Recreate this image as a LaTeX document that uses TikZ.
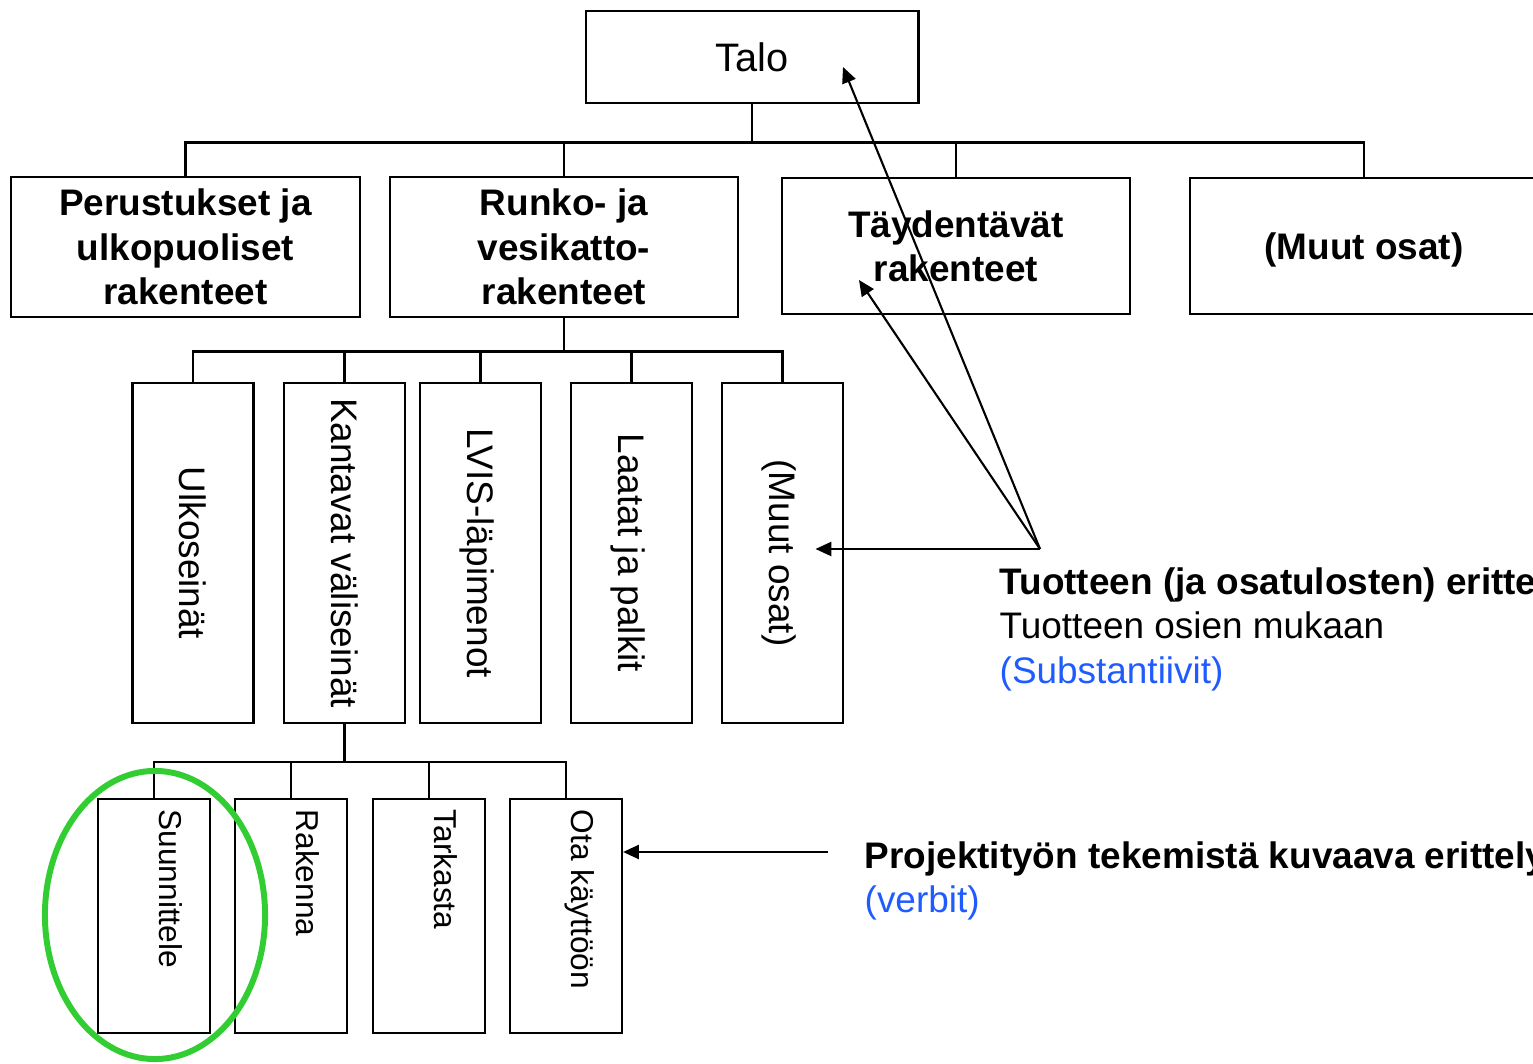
\documentclass[tikz,border=0pt]{standalone}
\usepackage{fontspec}
\setmainfont{Liberation Sans}
\usepackage{graphicx}
\usetikzlibrary{arrows.meta,calc}

\definecolor{nounblue}{RGB}{31,91,255}
\definecolor{ringgreen}{RGB}{50,205,50}
\newcommand{\vtext}[1]{\rotatebox{-90}{\raisebox{0pt}[\height][0pt]{#1}}}

\begin{document}
\begin{tikzpicture}[
    x=0.01cm, y=-0.01cm,
    top/.style={rectangle, draw, line width=0.8pt, minimum width=3.32cm, minimum height=0.92cm, font=\fontsize{11.3}{13.5}\selectfont},
    part/.style={rectangle, draw, line width=0.55pt, minimum width=3.48cm, minimum height=1.36cm, align=center, font=\fontsize{10.5}{12.6}\selectfont\bfseries},
    sub/.style={rectangle, draw, line width=0.6pt, minimum width=1.21cm, minimum height=3.40cm, inner sep=0pt, font=\fontsize{10.5}{12.6}\selectfont},
    task/.style={rectangle, draw, line width=0.6pt, minimum width=1.12cm, minimum height=2.34cm},
    tasktext/.style={inner sep=0pt, anchor=north, font=\fontsize{9}{10.8}\selectfont},
    note/.style={inner sep=0pt, anchor=north west, align=left, font=\fontsize{10.5}{12.6}\selectfont},
    arr/.style={-{Triangle[length=4.5pt,width=4pt]}, line width=0.6pt},
    link/.style={line width=0.6pt}
]
\useasboundingbox (0,0) rectangle (1533,1064);
\clip (0,0) rectangle (1533,1064);

% Ylin taso
\node[top] (talo) at (752,57) {Talo};

% Osat
\node[part] (perus) at (185.5,247) {Perustukset ja\\ulkopuoliset\\rakenteet};
\node[part] (runko) at (564,247) {Runko- ja\\vesikatto-\\rakenteet};
\node[part] (tayd) at (956,246) {Täydentävät\\rakenteet};
\node[part, text depth=0pt] (muut) at (1364,246) {(Muut osat)};

% Runko- ja vesikattorakenteiden osat
\node[sub] (ulko) at (193,553) {\vtext{Ulkoseinät}};
\node[sub] (kant) at (344.5,553) {\vtext{Kantavat väliseinät}};
\node[sub] (lvis) at (480.5,553) {\vtext{LVIS-läpimenot}};
\node[sub] (laat) at (631.5,553) {\vtext{Laatat ja palkit}};
\node[sub] (muut2) at (782.5,553) {\vtext{(Muut osat)}};

% Tehtävät
\node[task] (suun) at (154,916) {};
\node[task] (rake) at (291,916) {};
\node[task] (tark) at (429,916) {};
\node[task] (ota) at (566,916) {};
\node[tasktext] (suunT) at ($(suun.north)+(17,11)$) {\vtext{Suunnittele}};
\node[tasktext] (rakeT) at ($(rake.north)+(17,11)$) {\vtext{Rakenna}};
\node[tasktext] (tarkT) at ($(tark.north)+(17,11)$) {\vtext{Tarkasta}};
\node[tasktext] (otaT) at ($(ota.north)+(17,11)$) {\vtext{Ota käyttöön}};

% Puun viivat
\foreach \n in {perus, runko, tayd, muut}
    \draw[line width=0.8pt] (talo.south) -- ++(0,38) -| (\n.north);
\foreach \n in {ulko, kant, lvis, laat, muut2}
    \draw[link] (runko.south) -- ++(0,34) -| (\n.north);
\foreach \n in {suun, rake, tark, ota}
    \draw[link] (kant.south) -- ++(0,38) -| (\n.north);

% Selitteet
\node[note] (tuote) at (999,567) {\textbf{Tuotteen (ja osatulosten) erittely}\\Tuotteen osien mukaan\\\textcolor{nounblue}{(Substantiivit)}};
\node[note] (proj) at (864,841) {\textbf{Projektityön tekemistä kuvaava erittely}\\\textcolor{nounblue}{(verbit)}};

% Nuolet
\coordinate (src) at ($(tuote.north west)+(41,-18)$);
\draw[arr] (src) -- ($(talo.center)+(91,10)$);
\draw[arr] (src) -- ($(tayd.center)+(-97,34)$);
\draw[arr] (src) -- ($(src -| muut2.center)+(33,0)$);
\coordinate (vsrc) at ($(proj.north west)+(-36,11)$);
\draw[arr] (vsrc) -- (vsrc -| ota.east);

% Korostus
\draw[ringgreen, line width=1.7pt] (155,915) ellipse [x radius=1.10cm, y radius=1.44cm];

\end{tikzpicture}
\end{document}
